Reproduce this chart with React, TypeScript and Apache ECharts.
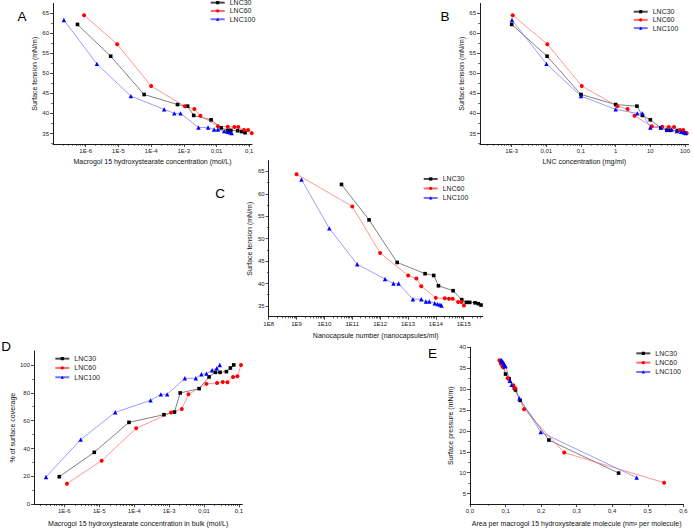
import React, { useEffect, useRef } from 'react';
import * as echarts from 'echarts';

const NAMES = ['LNC30', 'LNC60', 'LNC100'];

// Surface tension (mN/m), shared by panels A, B, C
const tension30 = [62.1, 54.2, 44.7, 42.2, 41.8, 39.5, 38.4, 36.4, 35.8, 35.8, 35.7, 35.5, 35.2];
const tension60 = [64.4, 57.2, 46.8, 41.8, 41.1, 39.4, 36.8, 36.7, 36.6, 36.6, 35.9, 35.9, 35.1];
const tension100 = [63.2, 52.3, 44.3, 41.0, 40.0, 40.0, 36.5, 36.5, 36.0, 36.0, 35.6, 35.4, 35.3, 35.1];

// Panel A: macrogol 15 hydroxystearate concentration (mol/L)
const macroA30 = [5.6e-7, 5.8e-6, 6.1e-5, 6.4e-4, 1.3e-3, 2.0e-3, 6.8e-3, 0.0138, 0.0216, 0.0273, 0.044, 0.058, 0.074];
const macroA60 = [8.9e-7, 9.2e-6, 1.0e-4, 1.07e-3, 2.1e-3, 3.2e-3, 0.011, 0.022, 0.035, 0.046, 0.069, 0.092, 0.119];
const macroA100 = [2.15e-7, 2.2e-6, 2.4e-5, 2.5e-4, 5.1e-4, 7.9e-4, 2.8e-3, 5.5e-3, 8.4e-3, 0.011, 0.017, 0.0216, 0.026, 0.029];

// Panel B: LNC concentration (mg/ml)
const lncB30 = [0.001, 0.0105, 0.1, 1.0, 4.1, 5.9, 10, 20, 30, 38, 60, 80, 100];
const lncB60 = [0.00107, 0.0107, 0.105, 1.12, 2.2, 3.5, 11, 22, 34, 48, 71, 89, 112];
const lncB100 = [0.00102, 0.0101, 0.1, 1.0, 4.2, 5.9, 10, 20, 30, 41, 58, 77, 92, 105];

// Panel C: nanocapsule number (nanocapsules/ml)
const nanoC30 = [4.1e10, 4.0e11, 4.1e12, 4.1e13, 8.4e13, 1.24e14, 4.15e14, 8.5e14, 1.25e15, 1.64e15, 2.55e15, 3.36e15, 4.18e15];
const nanoC60 = [1.0e9, 1.0e11, 1.0e12, 1.01e13, 2.0e13, 3.0e13, 9.9e13, 2.1e14, 2.95e14, 4.0e14, 6.3e14, 8.3e14, 1.02e15];
const nanoC100 = [1.5e9, 1.5e10, 1.5e11, 1.5e12, 3.0e12, 4.6e12, 1.5e13, 3.0e13, 4.4e13, 5.8e13, 9.1e13, 1.15e14, 1.4e14, 1.6e14];

// Panel D: bulk concentration (mol/L) and % of surface coverage
const bulkD30 = [7.2e-7, 7.2e-6, 7.1e-5, 7.1e-4, 1.42e-3, 2.07e-3, 7.2e-3, 0.0139, 0.0211, 0.0287, 0.0436, 0.0566, 0.0706];
const coverage30 = [19.8, 37.3, 58.8, 64.3, 66.2, 79.9, 83.0, 91.4, 94.7, 94.7, 95.2, 97.8, 100];
const bulkD60 = [1.19e-6, 1.17e-5, 1.14e-4, 1.14e-3, 2.3e-3, 3.57e-3, 0.0117, 0.0235, 0.0342, 0.0465, 0.0675, 0.0897, 0.114];
const coverage60 = [14.8, 31.3, 54.5, 65.8, 68.4, 78.9, 86.4, 87.1, 87.8, 87.6, 91.4, 91.9, 100];
const bulkD100 = [3.0e-7, 2.94e-6, 2.87e-5, 2.94e-4, 5.8e-4, 8.8e-4, 2.81e-3, 5.8e-3, 8.4e-3, 0.0117, 0.0169, 0.0231, 0.0281];
const coverage100 = [19.6, 46.4, 66.0, 74.6, 78.9, 78.9, 90.4, 90.4, 93.3, 93.8, 96.2, 97.6, 100];

// Panel E: area per molecule (nm²) and surface pressure (mN/m)
const areaE30 = [0.418, 0.222, 0.141, 0.128, 0.125, 0.110, 0.100, 0.093, 0.090, 0.090, 0.089, 0.087, 0.085];
const pressure30 = [9.9, 17.8, 27.3, 29.8, 30.2, 32.5, 33.6, 35.6, 36.2, 36.2, 36.3, 36.5, 36.8];
const areaE60 = [0.546, 0.265, 0.152, 0.127, 0.122, 0.106, 0.094, 0.093, 0.092, 0.092, 0.087, 0.087, 0.083];
const pressure60 = [7.6, 14.8, 25.2, 30.2, 30.9, 32.6, 35.2, 35.3, 35.4, 35.4, 36.1, 36.1, 36.9];
const areaE100 = [0.469, 0.199, 0.139, 0.117, 0.113, 0.112, 0.100, 0.098, 0.096, 0.095, 0.093, 0.091, 0.090, 0.088];
const pressure100 = [8.8, 19.7, 27.8, 31.0, 32.0, 32.0, 35.5, 35.5, 36.0, 36.0, 36.4, 36.6, 36.7, 36.9];

// Tick values and labels
const ticksA = [1e-6, 1e-5, 1e-4, 1e-3, 0.01, 0.1];
const labelsA = ['1E-6', '1E-5', '1E-4', '1E-3', '0,01', '0,1'];
const ticksB = [1e-3, 0.01, 0.1, 1, 10, 100];
const labelsB = ['1E-3', '0,01', '0,1', '1', '10', '100'];
const ticksC = [1e8, 1e9, 1e10, 1e11, 1e12, 1e13, 1e14, 1e15];
const labelsC = ['1E8', '1E9', '1E10', '1E11', '1E12', '1E13', '1E14', '1E15'];
const ticksTension = [35, 40, 45, 50, 55, 60, 65];
const labelsTension = ['35', '40', '45', '50', '55', '60', '65'];
const ticksCoverage = [0, 20, 40, 60, 80, 100];
const labelsCoverage = ['0', '20', '40', '60', '80', '100'];
const ticksAreaE = [0, 0.1, 0.2, 0.3, 0.4, 0.5, 0.6];
const labelsAreaE = ['0,0', '0,1', '0,2', '0,3', '0,4', '0,5', '0,6'];
const ticksPressure = [5, 10, 15, 20, 25, 30, 35, 40];
const labelsPressure = ['5', '10', '15', '20', '25', '30', '35', '40'];

const FONT = '"Liberation Sans", Arial, sans-serif';
const AX = '#1a1a1a';

function fmt(ticks: number[], labels: string[]) {
  return (v: number) => {
    for (let i = 0; i < ticks.length; i++) {
      const t = ticks[i];
      if (t === 0 ? Math.abs(v) < 1e-9 : Math.abs(v - t) <= 1e-6 * Math.abs(t)) return labels[i];
      if (t > 0 && Math.abs(v - Math.log10(t)) < 1e-6 && t !== 1) return labels[i];
    }
    return '';
  };
}

function minorLog(min: number, max: number) {
  const out: number[] = [];
  const k0 = Math.floor(Math.log10(min));
  const k1 = Math.ceil(Math.log10(max));
  for (let k = k0; k <= k1; k++) {
    for (let m = 2; m <= 9; m++) {
      const v = m * Math.pow(10, k);
      if (v > min && v < max) out.push(v);
    }
  }
  return out;
}

function minorLin(ticks: number[], min: number, max: number) {
  const step = ticks[1] - ticks[0];
  const out: number[] = [];
  const first = ticks[0] - step / 2;
  for (let i = 0; i <= ticks.length; i++) {
    const v = +(first + i * step).toFixed(6);
    if (v > min && v < max) out.push(v);
  }
  return out;
}

function axisPair(
  dim: 'x' | 'y', gridIndex: number, type: string, min: number, max: number,
  ticks: number[], labels: string[], name: string, nameGap: number
) {
  const minor = type === 'log' ? minorLog(min, max) : minorLin(ticks, min, max);
  const major: any = {
    type, gridIndex, min, max, logBase: 10,
    position: dim === 'x' ? 'bottom' : 'left',
    name, nameLocation: 'middle', nameGap,
    nameTextStyle: { fontFamily: FONT, fontSize: 7, color: '#111' },
    axisLine: { show: true, onZero: false, lineStyle: { color: AX, width: 1 } },
    axisTick: { show: true, inside: false, length: 3, customValues: ticks, lineStyle: { color: AX, width: 0.8 } },
    axisLabel: {
      show: true, customValues: ticks, formatter: fmt(ticks, labels),
      fontFamily: FONT, fontSize: 6, color: '#222', margin: 4,
      showMinLabel: true, showMaxLabel: true, hideOverlap: false,
    },
    splitLine: { show: false },
    minorTick: { show: false },
  };
  const minorAxis: any = {
    type, gridIndex, min, max, logBase: 10,
    position: dim === 'x' ? 'bottom' : 'left',
    axisLine: { show: false, onZero: false },
    axisTick: { show: true, inside: false, length: 1.7, customValues: minor, lineStyle: { color: AX, width: 0.7 } },
    axisLabel: { show: false },
    splitLine: { show: false },
  };
  return [major, minorAxis];
}

const STYLES = [
  { symbol: 'rect', size: 3.6, color: '#000000', line: '#4a4a4a' },
  { symbol: 'circle', size: 4, color: '#ff0000', line: '#ff6a6a' },
  { symbol: 'triangle', size: 4.4, color: '#0000ff', line: '#7272ff' },
];

function series(panel: number, idx: number, xs: number[], ys: number[]) {
  const s = STYLES[idx];
  return {
    type: 'line', name: NAMES[idx],
    xAxisIndex: panel * 2, yAxisIndex: panel * 2,
    data: xs.map((x, i) => [x, ys[i]]),
    symbol: s.symbol, symbolSize: s.size, showSymbol: true,
    itemStyle: { color: s.color },
    lineStyle: { color: s.line, width: 0.7 },
    silent: true,
  };
}

function legend(left: number, top: number, lineHeight: number) {
  return {
    orient: 'vertical', left, top, padding: 0,
    itemWidth: 14, itemHeight: 4, itemGap: 0,
    data: NAMES,
    textStyle: { fontFamily: FONT, fontSize: 7, color: '#222', lineHeight },
    selectedMode: false,
  };
}

const LETTERS = ['A', 'B', 'C', 'D', 'E'];
const LETTER_POS = [[22, 16.3], [445, 16.3], [220, 193.5], [6, 346.7], [432.5, 353.3]];

export default function App() {
  const ref = useRef<HTMLDivElement>(null);
  useEffect(() => {
    if (!ref.current) return;
    const chart = echarts.init(ref.current, undefined, { renderer: 'svg' });
    const grids = [
      { left: 53, top: 3.5, width: 199, height: 140.5 },
      { left: 480, top: 3.5, width: 208.5, height: 140.5 },
      { left: 268.7, top: 160.7, width: 214, height: 156 },
      { left: 34, top: 351, width: 208.3, height: 153.3 },
      { left: 470, top: 347.3, width: 213.3, height: 156.7 },
    ].map((g) => ({ ...g, outerBoundsMode: 'none', containLabel: false }));

    const xAxis = [
      ...axisPair('x', 0, 'log', 1e-7, 0.121, ticksA, labelsA, 'Macrogol 15 hydroxystearate concentration (mol/L)', 14),
      ...axisPair('x', 1, 'log', 1.22e-4, 126, ticksB, labelsB, 'LNC concentration (mg/ml)', 14),
      ...axisPair('x', 2, 'log', 1e8, 4.8e15, ticksC, labelsC, 'Nanocapsule number (nanocapsules/ml)', 15.5),
      ...axisPair('x', 3, 'log', 1.36e-7, 0.124, ticksA, labelsA, 'Macrogol 15 hydroxystearate concentration in bulk (mol/L)', 16),
      ...axisPair('x', 4, 'value', 0, 0.6, ticksAreaE, labelsAreaE, 'Area per macrogol 15 hydroxystearate molecule (nm² per molecule)', 16),
    ];
    const yAxis = [
      ...axisPair('y', 0, 'value', 32.4, 67.3, ticksTension, labelsTension, 'Surface tension (mN/m)', 15),
      ...axisPair('y', 1, 'value', 32.4, 67.3, ticksTension, labelsTension, 'Surface tension (mN/m)', 14.5),
      ...axisPair('y', 2, 'value', 32.6, 67.4, ticksTension, labelsTension, 'Surface tension (mN/m)', 15.5),
      ...axisPair('y', 3, 'value', 0, 110, ticksCoverage, labelsCoverage, '% of surface coverage', 18.5),
      ...axisPair('y', 4, 'value', 2.5, 40, ticksPressure, labelsPressure, 'Surface pressure (mN/m)', 16),
    ];

    const seriesList = [
      series(0, 0, macroA30, tension30), series(0, 1, macroA60, tension60), series(0, 2, macroA100, tension100),
      series(1, 0, lncB30, tension30), series(1, 1, lncB60, tension60), series(1, 2, lncB100, tension100),
      series(2, 0, nanoC30, tension30), series(2, 1, nanoC60, tension60), series(2, 2, nanoC100, tension100),
      series(3, 0, bulkD30, coverage30), series(3, 1, bulkD60, coverage60), series(3, 2, bulkD100, coverage100),
      series(4, 0, areaE30, pressure30), series(4, 1, areaE60, pressure60), series(4, 2, areaE100, pressure100),
    ];

    chart.setOption({
      animation: false,
      backgroundColor: '#ffffff',
      textStyle: { fontFamily: FONT },
      grid: grids,
      xAxis,
      yAxis,
      legend: [
        legend(209.7, -1.5, 8.3),
        legend(632.7, 7.6, 8.2),
        legend(422.7, 174.2, 9.5),
        legend(54.3, 354, 9.3),
        legend(635.3, 348.7, 9.3),
      ],
      series: seriesList,
      graphic: LETTERS.map((t, i) => ({
        type: 'text',
        x: LETTER_POS[i][0],
        y: LETTER_POS[i][1],
        style: {
          text: t, fontFamily: FONT, fontSize: 13.5, fill: '#000',
          align: 'center', verticalAlign: 'middle',
          textAlign: 'center', textVerticalAlign: 'middle',
        },
      })),
    });
    return () => chart.dispose();
  }, []);
  return (
    <div
      ref={ref}
      style={{ position: 'fixed', left: 0, top: 0, width: 693, height: 530, background: '#fff' }}
    />
  );
}
